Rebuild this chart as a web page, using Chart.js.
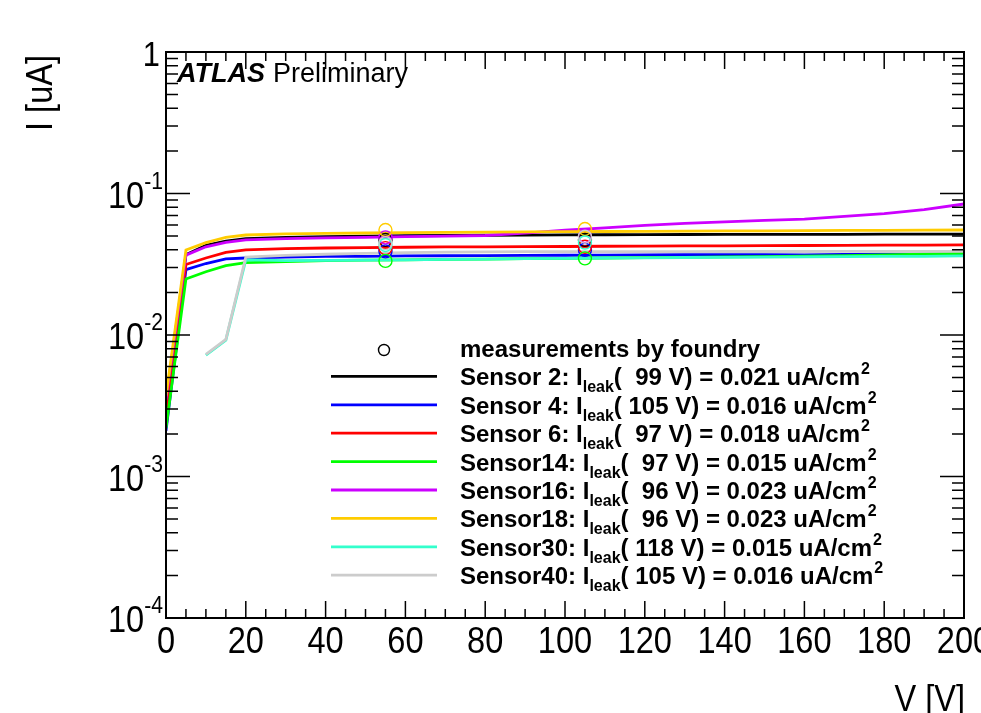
<!DOCTYPE html>
<html>
<head>
<meta charset="utf-8">
<title>Sensor IV curves</title>
<script src="https://cdn.jsdelivr.net/npm/chart.js@4.4.1/dist/chart.umd.min.js"></script>
<style>
  html, body { margin: 0; padding: 0; background: #fff; }
  canvas { display: block; }
</style>
</head>
<body>
<canvas id="ivChart" width="981" height="713"></canvas>
<script>
// Leakage current vs bias voltage, one curve per sensor

// bias voltage points [V]
const voltages = [0, 5, 10, 15, 20, 30, 40, 50, 60, 70, 80, 90, 100, 110, 120, 130, 140, 150, 160, 170, 180, 190, 200];
const voltagesLate = [10, 15, 20, 30, 40, 50, 60, 70, 80, 90, 100, 110, 120, 130, 140, 150, 160, 170, 180, 190, 200];

// current [uA]
const sensor2  = [0.0029, 0.037, 0.043, 0.046, 0.048, 0.049, 0.0495, 0.050, 0.0503, 0.0505, 0.0507, 0.0508, 0.051, 0.0511, 0.0512, 0.0513, 0.0514, 0.0514, 0.0515, 0.0515, 0.0516, 0.0516, 0.0517];
const sensor4  = [0.0021, 0.029, 0.032, 0.0345, 0.035, 0.0355, 0.036, 0.036, 0.0362, 0.0363, 0.0364, 0.0365, 0.0366, 0.0367, 0.0368, 0.0369, 0.037, 0.037, 0.0368, 0.0371, 0.0372, 0.0373, 0.0373];
const sensor6  = [0.0030, 0.0315, 0.035, 0.0384, 0.040, 0.0408, 0.0412, 0.0415, 0.0417, 0.0419, 0.042, 0.0421, 0.0422, 0.0424, 0.0425, 0.0426, 0.0427, 0.0428, 0.0429, 0.043, 0.0431, 0.0432, 0.0433];
const sensor14 = [0.0022, 0.0249, 0.028, 0.0309, 0.0325, 0.033, 0.0335, 0.0338, 0.034, 0.0342, 0.0344, 0.0346, 0.0348, 0.035, 0.0352, 0.0354, 0.0356, 0.0358, 0.0361, 0.0364, 0.0368, 0.0372, 0.0377];
const sensor16 = [0.0035, 0.0367, 0.042, 0.0452, 0.047, 0.048, 0.0486, 0.049, 0.0495, 0.050, 0.0505, 0.0525, 0.055, 0.0572, 0.0595, 0.0615, 0.063, 0.0645, 0.0658, 0.069, 0.072, 0.077, 0.0843];
const sensor18 = [0.0037, 0.0399, 0.045, 0.049, 0.0509, 0.0518, 0.0522, 0.0526, 0.0529, 0.0531, 0.0533, 0.0535, 0.0537, 0.0539, 0.054, 0.0542, 0.0544, 0.0545, 0.0547, 0.0548, 0.0549, 0.0551, 0.0552];
const sensor30 = [0.0072, 0.0092, 0.034, 0.0335, 0.0337, 0.0338, 0.034, 0.0342, 0.0344, 0.0346, 0.0348, 0.035, 0.0351, 0.0353, 0.0354, 0.0355, 0.0357, 0.0358, 0.0359, 0.036, 0.0362];
const sensor40 = [0.0073, 0.0093, 0.0355, 0.0365, 0.0372, 0.0378, 0.0382, 0.0385, 0.0387, 0.0388, 0.0388, 0.0388, 0.0388, 0.0388, 0.0389, 0.0389, 0.0389, 0.039, 0.039, 0.039, 0.039];

const sensorNames = ['Sensor 2', 'Sensor 4', 'Sensor 6', 'Sensor14', 'Sensor16', 'Sensor18', 'Sensor30', 'Sensor40'];
const leakVoltage = [99, 105, 97, 97, 96, 96, 118, 105];
const leakDensity = [0.021, 0.016, 0.018, 0.015, 0.023, 0.023, 0.015, 0.016];
const sensorColors = ['#000000', '#0000ff', '#ff0000', '#00ff00', '#cc00ff', '#ffcc00', '#33ffcc', '#cccccc'];

// measurements by foundry (open circles)
const foundryV = [55, 105];
const foundry2  = [0.047, 0.047];
const foundry4  = [0.039, 0.040];
const foundry6  = [0.0411, 0.042];
const foundry14 = [0.0334, 0.0348];
const foundry16 = [0.049, 0.050];
const foundry18 = [0.0552, 0.0561];
const foundry30 = [0.0433, 0.045];
const foundry40 = [0.0446, 0.0495];

// axis ticks
const xTickValues = [0, 20, 40, 60, 80, 100, 120, 140, 160, 180, 200];
const yTickValues = [1e-4, 1e-3, 1e-2, 1e-1, 1];
const yTickBase = ['10', '10', '10', '10', '1'];
const yTickExp = ['-4', '-3', '-2', '-1', ''];

const curves = [
  { v: voltages, i: sensor2 },
  { v: voltages, i: sensor4 },
  { v: voltages, i: sensor6 },
  { v: voltages, i: sensor14 },
  { v: voltages, i: sensor16 },
  { v: voltages, i: sensor18 },
  { v: voltagesLate, i: sensor30 },
  { v: voltagesLate, i: sensor40 }
];
const foundry = [foundry2, foundry4, foundry6, foundry14, foundry16, foundry18, foundry30, foundry40];

function toPoints(xs, ys) {
  return xs.map((x, k) => ({ x: x, y: ys[k] }));
}

const datasets = [];
curves.forEach((c, k) => {
  datasets.push({
    type: 'line',
    label: sensorNames[k],
    data: toPoints(c.v, c.i),
    borderColor: sensorColors[k],
    borderWidth: 2.8,
    pointRadius: 0,
    tension: 0,
    fill: false,
    order: 20 - k // later sensors drawn on top
  });
});
foundry.forEach((f, k) => {
  datasets.push({
    type: 'line',
    label: 'foundry ' + sensorNames[k],
    data: toPoints(foundryV, f),
    showLine: false,
    borderColor: sensorColors[k],
    backgroundColor: 'rgba(0,0,0,0)',
    pointStyle: 'circle',
    pointRadius: 6.5,
    pointBorderWidth: 1.4,
    order: 10 - k
  });
});

const FONT = '"Liberation Sans", Arial, Helvetica, sans-serif';
const NARROW = 0.88; // ROOT labels look a bit condensed

// draw text squeezed horizontally around its anchor
function narrowText(ctx, text, x, y) {
  ctx.save();
  ctx.translate(x, y);
  ctx.scale(NARROW, 1);
  ctx.fillText(text, 0, 0);
  ctx.restore();
}

// ROOT-style frame: inward ticks on all four sides, labels, legend
const rootFrame = {
  id: 'rootFrame',
  afterDraw(chart) {
    const ctx = chart.ctx;
    const a = chart.chartArea;
    const sx = chart.scales.x;
    const sy = chart.scales.y;
    ctx.save();
    ctx.strokeStyle = '#000';
    ctx.fillStyle = '#000';

    // ticks
    ctx.lineWidth = 1.5;
    ctx.beginPath();
    for (let v = 0; v <= 200; v += 5) {
      const px = sx.getPixelForValue(v);
      const len = v % 20 === 0 ? 17 : 9;
      ctx.moveTo(px, a.bottom); ctx.lineTo(px, a.bottom - len);
      ctx.moveTo(px, a.top); ctx.lineTo(px, a.top + len);
    }
    for (let d = -4; d <= 0; d++) {
      const base = Math.pow(10, d);
      const py = sy.getPixelForValue(base);
      ctx.moveTo(a.left, py); ctx.lineTo(a.left + 24, py);
      ctx.moveTo(a.right, py); ctx.lineTo(a.right - 24, py);
      if (d === 0) continue;
      for (let m = 2; m <= 9; m++) {
        const my = sy.getPixelForValue(m * base);
        ctx.moveTo(a.left, my); ctx.lineTo(a.left + 12, my);
        ctx.moveTo(a.right, my); ctx.lineTo(a.right - 12, my);
      }
    }
    ctx.stroke();

    ctx.lineWidth = 2;
    ctx.strokeRect(a.left, a.top, a.right - a.left, a.bottom - a.top);

    // x tick labels
    ctx.font = '37px ' + FONT;
    ctx.textAlign = 'center';
    ctx.textBaseline = 'alphabetic';
    xTickValues.forEach(v => {
      narrowText(ctx, String(v), sx.getPixelForValue(v), a.bottom + 35);
    });

    // y tick labels with exponent
    yTickValues.forEach((v, k) => {
      const py = sy.getPixelForValue(v);
      if (yTickExp[k] === '') {
        ctx.font = '35px ' + FONT;
        ctx.textAlign = 'right';
        narrowText(ctx, yTickBase[k], a.left - 6, py + 14);
        return;
      }
      ctx.font = '24px ' + FONT;
      ctx.textAlign = 'right';
      const expX = a.left - 3;
      narrowText(ctx, yTickExp[k], expX, py - 5);
      const expW = ctx.measureText(yTickExp[k]).width * NARROW;
      ctx.font = '37px ' + FONT;
      narrowText(ctx, yTickBase[k], expX - expW, py + 14);
    });

    // axis titles
    ctx.font = '37px ' + FONT;
    ctx.textAlign = 'right';
    narrowText(ctx, 'V [V]', a.right + 1, 711);
    ctx.save();
    ctx.translate(42, 55);
    ctx.rotate(-Math.PI / 2);
    ctx.textBaseline = 'middle';
    narrowText(ctx, 'I [uA]', 0, 0);
    ctx.restore();

    // ATLAS label
    ctx.textAlign = 'left';
    ctx.textBaseline = 'alphabetic';
    ctx.font = 'italic bold 27px ' + FONT;
    ctx.fillText('ATLAS', 177, 82);
    ctx.font = '27px ' + FONT;
    ctx.fillText('Preliminary', 273, 82);

    // legend
    const lx0 = 331, lx1 = 437, tx = 460;
    const rowY = 348, rowStep = 28.4;
    ctx.lineWidth = 1.4;
    ctx.beginPath();
    ctx.arc((lx0 + lx1) / 2, rowY + 2, 5.5, 0, Math.PI * 2);
    ctx.stroke();
    ctx.font = 'bold 24px ' + FONT;
    ctx.fillText('measurements by foundry', tx, rowY + 9);

    sensorNames.forEach((name, k) => {
      const y = rowY + rowStep * (k + 1);
      ctx.strokeStyle = sensorColors[k];
      ctx.lineWidth = 2.8;
      ctx.beginPath();
      ctx.moveTo(lx0, y); ctx.lineTo(lx1, y);
      ctx.stroke();

      let x = tx;
      const base = y + 9;
      ctx.font = 'bold 24px ' + FONT;
      const head = name + ': I';
      ctx.fillText(head, x, base);
      x += ctx.measureText(head).width;
      ctx.font = 'bold 16px ' + FONT;
      ctx.fillText('leak', x, base + 7);
      x += ctx.measureText('leak').width;
      ctx.font = 'bold 24px ' + FONT;
      const body = '( ' + String(leakVoltage[k]).padStart(3, ' ') + ' V) = ' + leakDensity[k].toFixed(3) + ' uA/cm';
      ctx.fillText(body, x, base);
      x += ctx.measureText(body).width;
      ctx.font = 'bold 16px ' + FONT;
      ctx.fillText('2', x + 1, base - 11);
    });
    ctx.restore();
  }
};

new Chart(document.getElementById('ivChart').getContext('2d'), {
  data: { datasets: datasets },
  options: {
    responsive: false,
    animation: false,
    layout: { padding: { top: 52, right: 17, left: 0, bottom: 0 }, autoPadding: false },
    plugins: {
      legend: { display: false },
      tooltip: { enabled: false }
    },
    scales: {
      x: {
        type: 'linear',
        min: 0,
        max: 200,
        grid: { display: false },
        border: { display: false },
        ticks: { display: false },
        afterFit: s => { s.height = 95; }
      },
      y: {
        type: 'logarithmic',
        min: 1e-4,
        max: 1,
        grid: { display: false },
        border: { display: false },
        ticks: { display: false },
        afterFit: s => { s.width = 166; }
      }
    }
  },
  plugins: [rootFrame]
});
</script>
</body>
</html>
